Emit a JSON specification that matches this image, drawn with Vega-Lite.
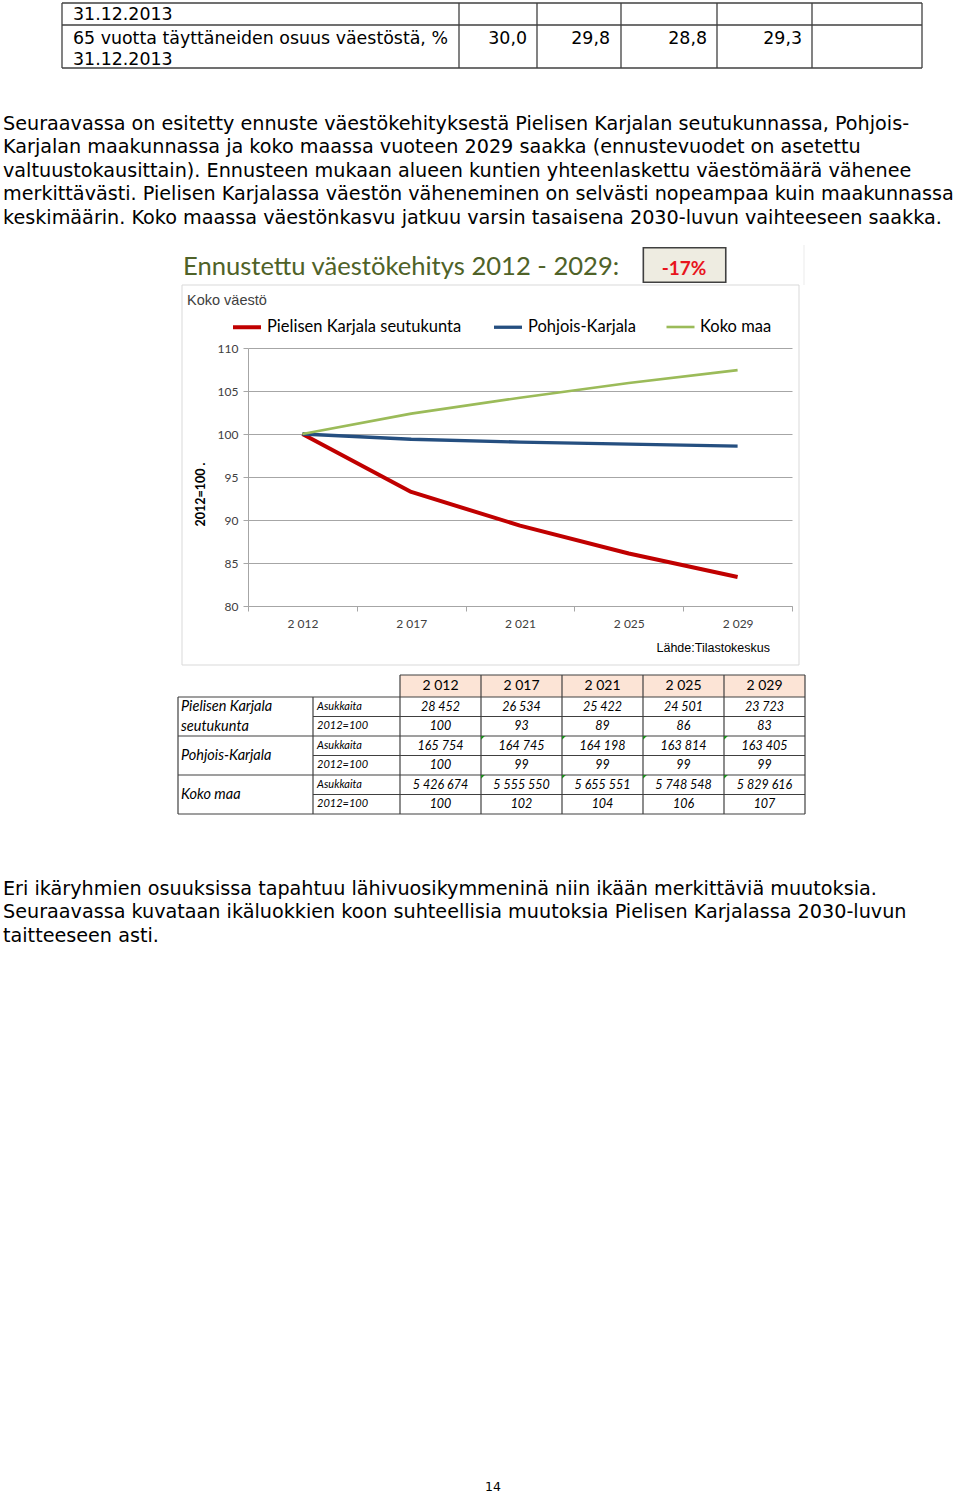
{
  "$schema": "https://vega.github.io/schema/vega-lite/v6.json",
  "width": 544,
  "height": 258,
  "autosize": {"type": "none"},
  "padding": {"left": 248, "top": 348, "right": 168, "bottom": 889},
  "background": "white",
  "config": {
    "view": {"stroke": null},
    "locale": {"number": {"decimal": ",", "thousands": " ", "grouping": [3], "currency": ["", " €"]}}
  },
  "title": {"text": "14", "orient": "bottom", "anchor": "middle", "frame": "group", "offset": 541, "dx": -27, "font": "DejaVu Sans", "fontSize": 12.5, "fontWeight": "normal", "color": "#000000", "baseline": "middle"},
  "datasets": {
    "ennuste": [
      {"alue": "Pielisen Karjala seutukunta", "vuosi": 2012, "asukkaita": 28452, "indeksi": 100},
      {"alue": "Pielisen Karjala seutukunta", "vuosi": 2017, "asukkaita": 26534, "indeksi": 93.26},
      {"alue": "Pielisen Karjala seutukunta", "vuosi": 2021, "asukkaita": 25422, "indeksi": 89.35},
      {"alue": "Pielisen Karjala seutukunta", "vuosi": 2025, "asukkaita": 24501, "indeksi": 86.11},
      {"alue": "Pielisen Karjala seutukunta", "vuosi": 2029, "asukkaita": 23723, "indeksi": 83.38},
      {"alue": "Pohjois-Karjala", "vuosi": 2012, "asukkaita": 165754, "indeksi": 100},
      {"alue": "Pohjois-Karjala", "vuosi": 2017, "asukkaita": 164745, "indeksi": 99.39},
      {"alue": "Pohjois-Karjala", "vuosi": 2021, "asukkaita": 164198, "indeksi": 99.06},
      {"alue": "Pohjois-Karjala", "vuosi": 2025, "asukkaita": 163814, "indeksi": 98.83},
      {"alue": "Pohjois-Karjala", "vuosi": 2029, "asukkaita": 163405, "indeksi": 98.58},
      {"alue": "Koko maa", "vuosi": 2012, "asukkaita": 5426674, "indeksi": 100},
      {"alue": "Koko maa", "vuosi": 2017, "asukkaita": 5555550, "indeksi": 102.37},
      {"alue": "Koko maa", "vuosi": 2021, "asukkaita": 5655551, "indeksi": 104.22},
      {"alue": "Koko maa", "vuosi": 2025, "asukkaita": 5748548, "indeksi": 105.93},
      {"alue": "Koko maa", "vuosi": 2029, "asukkaita": 5829616, "indeksi": 107.43}
    ],
    "alueet": [
      {"alue": "Pielisen Karjala seutukunta", "nimi": "Pielisen Karjala\nseutukunta"},
      {"alue": "Pohjois-Karjala", "nimi": "Pohjois-Karjala"},
      {"alue": "Koko maa", "nimi": "Koko maa"}
    ],
    "kaavio": [
      {"otsikko": "Ennustettu väestökehitys 2012 - 2029:", "muutos": "-17%", "alaotsikko": "Koko väestö", "lahde": "Lähde:Tilastokeskus"}
    ],
    "teksti": [
      {"rivi": 1, "teksti": "Seuraavassa on esitetty ennuste väestökehityksestä Pielisen Karjalan seutukunnassa, Pohjois-"},
      {"rivi": 2, "teksti": "Karjalan maakunnassa ja koko maassa vuoteen 2029 saakka (ennustevuodet on asetettu"},
      {"rivi": 3, "teksti": "valtuustokausittain). Ennusteen mukaan alueen kuntien yhteenlaskettu väestömäärä vähenee"},
      {"rivi": 4, "teksti": "merkittävästi. Pielisen Karjalassa väestön väheneminen on selvästi nopeampaa kuin maakunnassa"},
      {"rivi": 5, "teksti": "keskimäärin. Koko maassa väestönkasvu jatkuu varsin tasaisena 2030-luvun vaihteeseen saakka."},
      {"rivi": 6, "teksti": "Eri ikäryhmien osuuksissa tapahtuu lähivuosikymmeninä niin ikään merkittäviä muutoksia."},
      {"rivi": 7, "teksti": "Seuraavassa kuvataan ikäluokkien koon suhteellisia muutoksia Pielisen Karjalassa 2030-luvun"},
      {"rivi": 8, "teksti": "taitteeseen asti."}
    ]
  },
  "resolve": {"scale": {"x": "independent", "y": "independent"}},
  "layer": [
    {
      "data": {"name": "ennuste"},
      "mark": {"type": "line", "strokeJoin": "round"},
      "encoding": {
        "x": {
          "field": "vuosi", "type": "ordinal", "bandPosition": 0.5,
          "scale": {"type": "band", "paddingInner": 0, "paddingOuter": 0},
          "axis": {"orient": "bottom", "title": null, "labelExpr": "slice(datum.label,0,1) + ' ' + slice(datum.label,1)", "labelAngle": 0, "tickBand": "extent", "tickSize": 5, "tickColor": "#a6a6a6", "domainColor": "#a6a6a6", "labelFont": "Lato", "labelFontSize": 12, "labelColor": "#404040", "labelPadding": 7, "grid": false}
        },
        "y": {
          "field": "indeksi", "type": "quantitative",
          "scale": {"domain": [80, 110], "nice": false, "zero": false},
          "axis": {"orient": "left", "values": [80, 85, 90, 95, 100, 105, 110], "title": "2012=100     .", "titleFont": "Lato", "titleFontSize": 12.5, "titleFontWeight": "bold", "titleColor": "#000000", "titleX": -48, "titleY": 146, "titleAngle": -90, "titleAlign": "center", "titleBaseline": "middle", "grid": true, "gridColor": "#a6a6a6", "domainColor": "#a6a6a6", "tickSize": 5, "tickColor": "#a6a6a6", "labelFont": "Lato", "labelFontSize": 12, "labelColor": "#404040", "labelPadding": 5}
        },
        "color": {
          "field": "alue", "type": "nominal",
          "scale": {"domain": ["Pielisen Karjala seutukunta", "Pohjois-Karjala", "Koko maa"], "range": ["#c00000", "#254f80", "#9bbb59"]},
          "legend": {"title": null, "orient": "none", "legendX": -17, "legendY": -37, "direction": "horizontal", "symbolType": "stroke", "symbolSize": 784, "symbolStrokeWidth": 3, "labelFont": "Lato", "labelFontSize": 16.5, "labelColor": "#000000", "labelOffset": 4, "columnPadding": 25, "labelLimit": 400}
        },
        "strokeWidth": {
          "field": "alue", "type": "nominal",
          "scale": {"domain": ["Pielisen Karjala seutukunta", "Pohjois-Karjala", "Koko maa"], "range": [4, 2.6, 2.6]},
          "legend": null
        }
      }
    },
    {
      "data": {"name": "kaavio"},
      "encoding": {},
      "layer": [
        {"mark": {"type": "rect", "filled": false, "stroke": "#d9d9d9", "strokeWidth": 1},
         "encoding": {"x": {"datum": 0, "type": "quantitative", "scale": {"domain": [0, 1], "range": [-66, 551]}, "axis": null}, "x2": {"datum": 1}, "y": {"datum": 0, "type": "quantitative", "scale": {"domain": [0, 1], "range": [-63, 317]}, "axis": null}, "y2": {"datum": 1}}},
        {"mark": {"type": "rule", "stroke": "#ebebeb", "strokeWidth": 1},
         "encoding": {"x": {"datum": 1.0081, "type": "quantitative"}, "y": {"datum": -0.1053, "type": "quantitative"}, "y2": {"datum": 0}}},
        {"mark": {"type": "rect", "fill": "#eeece1", "stroke": "#404040", "strokeWidth": 1.6},
         "encoding": {"x": {"datum": 0.7477, "type": "quantitative"}, "x2": {"datum": 0.8813}, "y": {"datum": -0.0982, "type": "quantitative"}, "y2": {"datum": -0.0071}}},
        {"mark": {"type": "text", "align": "left", "baseline": "alphabetic", "font": "Lato", "fontSize": 25.6, "color": "#4f6228"},
         "encoding": {"text": {"field": "otsikko"}, "x": {"datum": 0.0016, "type": "quantitative"}, "y": {"datum": -0.0263, "type": "quantitative"}}},
        {"mark": {"type": "text", "align": "center", "baseline": "alphabetic", "font": "Lato", "fontSize": 19, "fontWeight": "bold", "color": "#e8141c"},
         "encoding": {"text": {"field": "muutos"}, "x": {"datum": 0.8136, "type": "quantitative"}, "y": {"datum": -0.0263, "type": "quantitative"}}},
        {"mark": {"type": "text", "align": "left", "baseline": "alphabetic", "font": "Liberation Sans", "fontSize": 14.5, "color": "#404040"},
         "encoding": {"text": {"field": "alaotsikko"}, "x": {"datum": 0.0081, "type": "quantitative"}, "y": {"datum": 0.0526, "type": "quantitative"}}},
        {"mark": {"type": "text", "align": "right", "baseline": "alphabetic", "font": "Liberation Sans", "fontSize": 12.5, "color": "#000000"},
         "encoding": {"text": {"field": "lahde"}, "x": {"datum": 0.953, "type": "quantitative"}, "y": {"datum": 0.9658, "type": "quantitative"}}}
      ]
    },
    {
      "encoding": {},
      "layer": [
        {"data": {"values": [{"raja": 0}, {"raja": 1}, {"raja": 2}, {"raja": 3}, {"raja": 4}, {"raja": 5}, {"raja": 6}]},
         "mark": {"type": "rule", "stroke": "#404040", "strokeWidth": 1.3},
         "encoding": {"x": {"field": "raja", "type": "quantitative", "scale": {"domain": [0, 1, 2, 3, 4, 5, 6], "range": [-186, 211, 289, 373, 469, 564, 674]}, "axis": null}, "y": {"datum": 0, "type": "quantitative", "scale": {"domain": [0, 1, 2], "range": [-345, -323, -280]}, "axis": null}, "y2": {"datum": 2}}},
        {"data": {"values": [{"raja": 0}, {"raja": 1}, {"raja": 2}]},
         "mark": {"type": "rule", "stroke": "#404040", "strokeWidth": 1.3},
         "encoding": {"y": {"field": "raja", "type": "quantitative"}, "x": {"datum": 0, "type": "quantitative"}, "x2": {"datum": 6}}}
      ]
    },
    {
      "encoding": {},
      "layer": [
        {"data": {"values": [{"rivi": 1, "teksti": "31.12.2013"}, {"rivi": 2, "teksti": "65 vuotta täyttäneiden osuus väestöstä, %"}, {"rivi": 3, "teksti": "31.12.2013"}]},
         "mark": {"type": "text", "align": "left", "baseline": "alphabetic", "font": "DejaVu Sans", "fontSize": 17.4, "color": "#000000"},
         "encoding": {"text": {"field": "teksti"}, "x": {"datum": 0, "type": "quantitative", "scale": {"domain": [0, 1, 2, 3, 4], "range": [-175, 279, 362, 459, 554]}, "axis": null}, "y": {"field": "rivi", "type": "quantitative", "scale": {"domain": [1, 2, 3], "range": [-328.5, -304.5, -282.7]}, "axis": null}}},
        {"data": {"values": [{"sarake": 1, "osuus": 30.0}, {"sarake": 2, "osuus": 29.8}, {"sarake": 3, "osuus": 28.8}, {"sarake": 4, "osuus": 29.3}]},
         "mark": {"type": "text", "align": "right", "baseline": "alphabetic", "font": "DejaVu Sans", "fontSize": 17.4, "color": "#000000"},
         "encoding": {"text": {"field": "osuus", "type": "quantitative", "format": ".1f"}, "x": {"field": "sarake", "type": "quantitative"}, "y": {"datum": 2, "type": "quantitative"}}}
      ]
    },
    {
      "data": {"name": "teksti"},
      "mark": {"type": "text", "align": "left", "baseline": "alphabetic", "font": "DejaVu Sans", "fontSize": 19.2, "color": "#000000"},
      "encoding": {
        "text": {"field": "teksti"},
        "x": {"datum": 0, "type": "quantitative", "scale": {"domain": [0, 1], "range": [-245, 715]}, "axis": null},
        "y": {"field": "rivi", "type": "quantitative", "scale": {"domain": [1, 5, 6, 8], "range": [-218, -124.4, 547, 593.8]}, "axis": null}
      }
    },
    {
      "encoding": {},
      "layer": [
        {"data": {"values": [{"otsake": "2012"}]},
         "mark": {"type": "rect", "fill": "#fce4d6"},
         "encoding": {"x": {"datum": 2, "type": "quantitative", "scale": {"domain": [0, 1, 2, 7], "range": [-70, 65, 152, 557]}, "axis": null}, "x2": {"datum": 7}, "y": {"datum": 0, "type": "quantitative", "scale": {"domain": [0, 1, 7], "range": [327, 349, 466]}, "axis": null}, "y2": {"datum": 1}}},
        {"data": {"values": [{"raja": 1}, {"raja": 3}, {"raja": 5}, {"raja": 7}]},
         "mark": {"type": "rule", "stroke": "#404040", "strokeWidth": 1.2},
         "encoding": {"y": {"field": "raja", "type": "quantitative"}, "x": {"datum": 0, "type": "quantitative"}, "x2": {"datum": 7}}},
        {"data": {"values": [{"raja": 2}, {"raja": 4}, {"raja": 6}]},
         "mark": {"type": "rule", "stroke": "#404040", "strokeWidth": 1},
         "encoding": {"y": {"field": "raja", "type": "quantitative"}, "x": {"datum": 1, "type": "quantitative"}, "x2": {"datum": 7}}},
        {"data": {"values": [{"raja": 0}]},
         "mark": {"type": "rule", "stroke": "#404040", "strokeWidth": 1.2},
         "encoding": {"y": {"field": "raja", "type": "quantitative"}, "x": {"datum": 2, "type": "quantitative"}, "x2": {"datum": 7}}},
        {"data": {"values": [{"raja": 0}, {"raja": 1}]},
         "mark": {"type": "rule", "stroke": "#404040", "strokeWidth": 1.2},
         "encoding": {"x": {"field": "raja", "type": "quantitative"}, "y": {"datum": 1, "type": "quantitative"}, "y2": {"datum": 7}}},
        {"data": {"values": [{"raja": 2}, {"raja": 3}, {"raja": 4}, {"raja": 5}, {"raja": 6}, {"raja": 7}]},
         "mark": {"type": "rule", "stroke": "#404040", "strokeWidth": 1.2},
         "encoding": {"x": {"field": "raja", "type": "quantitative"}, "y": {"datum": 0, "type": "quantitative"}, "y2": {"datum": 7}}},
        {"data": {"values": [{"sarake": 3, "rivi": 3}, {"sarake": 4, "rivi": 3}, {"sarake": 5, "rivi": 3}, {"sarake": 6, "rivi": 3}, {"sarake": 3, "rivi": 5}, {"sarake": 4, "rivi": 5}, {"sarake": 5, "rivi": 5}, {"sarake": 6, "rivi": 5}]},
         "mark": {"type": "point", "shape": "M0,0L1,0L0,1Z", "filled": true, "color": "#1e8c1e", "size": 60, "opacity": 1},
         "encoding": {"x": {"field": "sarake", "type": "quantitative"}, "y": {"field": "rivi", "type": "quantitative"}}}
      ]
    },
    {
      "data": {"name": "ennuste"},
      "encoding": {
        "x": {"field": "vuosi", "type": "ordinal", "bandPosition": 0.5, "scale": {"type": "band", "range": [152, 557], "paddingInner": 0, "paddingOuter": 0}, "axis": null}
      },
      "layer": [
        {"mark": {"type": "text", "align": "center", "baseline": "middle", "font": "Lato", "fontSize": 12.5, "fontStyle": "italic", "color": "#000000"},
         "encoding": {"text": {"field": "asukkaita", "type": "quantitative", "format": ",d"}, "y": {"field": "alue", "type": "nominal", "bandPosition": 0.25, "scale": {"type": "band", "domain": ["Pielisen Karjala seutukunta", "Pohjois-Karjala", "Koko maa"], "range": [349, 466], "paddingInner": 0, "paddingOuter": 0}, "axis": null}}},
        {"mark": {"type": "text", "align": "center", "baseline": "middle", "font": "Lato", "fontSize": 12.5, "fontStyle": "italic", "color": "#000000"},
         "encoding": {"text": {"field": "indeksi", "type": "quantitative", "format": ".0f"}, "y": {"field": "alue", "type": "nominal", "bandPosition": 0.75}}},
        {"transform": [{"filter": "datum.alue === 'Koko maa'"}],
         "mark": {"type": "text", "align": "center", "baseline": "middle", "font": "Lato", "fontSize": 14, "color": "#000000", "dy": -11},
         "encoding": {"text": {"field": "vuosi", "type": "quantitative", "format": ",d"}, "y": {"datum": "Pielisen Karjala seutukunta", "type": "nominal", "bandPosition": 0}}}
      ]
    },
    {
      "data": {"name": "alueet"},
      "encoding": {
        "y": {"field": "alue", "type": "nominal", "scale": {"type": "band", "domain": ["Pielisen Karjala seutukunta", "Pohjois-Karjala", "Koko maa"], "range": [349, 466], "paddingInner": 0, "paddingOuter": 0}, "axis": null}
      },
      "layer": [
        {"transform": [{"filter": "indexof(datum.nimi, '\\n') >= 0"}],
         "mark": {"type": "text", "align": "left", "baseline": "middle", "font": "Lato", "fontSize": 14.5, "fontStyle": "italic", "color": "#000000", "lineBreak": "\n", "lineHeight": 20},
         "encoding": {"text": {"field": "nimi"}, "x": {"datum": 0, "type": "quantitative", "scale": {"domain": [0, 1], "range": [-67, 69]}, "axis": null}, "y": {"field": "alue", "type": "nominal", "bandPosition": 0.25}}},
        {"transform": [{"filter": "indexof(datum.nimi, '\\n') < 0"}],
         "mark": {"type": "text", "align": "left", "baseline": "middle", "font": "Lato", "fontSize": 14.5, "fontStyle": "italic", "color": "#000000"},
         "encoding": {"text": {"field": "nimi"}, "x": {"datum": 0, "type": "quantitative"}, "y": {"field": "alue", "type": "nominal", "bandPosition": 0.5}}},
        {"mark": {"type": "text", "align": "left", "baseline": "middle", "font": "Lato", "fontSize": 11, "fontStyle": "italic", "color": "#000000"},
         "encoding": {"text": {"value": "Asukkaita"}, "x": {"datum": 1, "type": "quantitative"}, "y": {"field": "alue", "type": "nominal", "bandPosition": 0.25}}},
        {"mark": {"type": "text", "align": "left", "baseline": "middle", "font": "Lato", "fontSize": 11, "fontStyle": "italic", "color": "#000000"},
         "encoding": {"text": {"value": "2012=100"}, "x": {"datum": 1, "type": "quantitative"}, "y": {"field": "alue", "type": "nominal", "bandPosition": 0.75}}}
      ]
    }
  ]
}
